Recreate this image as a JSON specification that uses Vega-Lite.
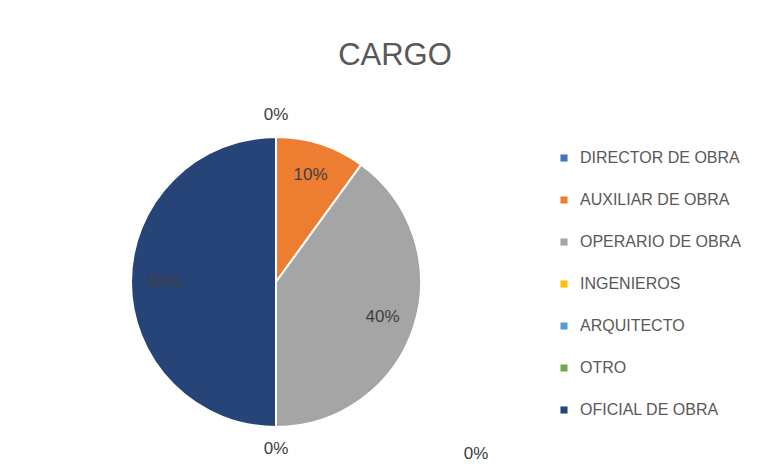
{
  "$schema": "https://vega.github.io/schema/vega-lite/v6.json",
  "width": 552,
  "height": 380,
  "autosize": "none",
  "padding": {"left": 0, "top": 92, "right": 220, "bottom": 4},
  "background": "white",
  "title": {
    "text": "CARGO",
    "fontSize": 31,
    "font": "Liberation Sans",
    "fontWeight": "normal",
    "color": "#595959",
    "dx": 119,
    "offset": 20
  },
  "data": {
    "values": [
      {"cargo": "DIRECTOR DE OBRA", "valor": 0, "orden": 1},
      {"cargo": "AUXILIAR DE OBRA", "valor": 0.1, "orden": 2},
      {"cargo": "OPERARIO DE OBRA", "valor": 0.4, "orden": 3},
      {"cargo": "INGENIEROS", "valor": 0, "orden": 4},
      {"cargo": " ARQUITECTO", "valor": 0, "orden": 5},
      {"cargo": "OTRO", "valor": 0, "orden": 6},
      {"cargo": "OFICIAL DE OBRA", "valor": 0.5, "orden": 7}
    ]
  },
  "encoding": {
    "theta": {"field": "valor", "type": "quantitative", "stack": true},
    "order": {"field": "orden", "type": "quantitative"}
  },
  "layer": [
    {
      "mark": {"type": "arc", "outerRadius": 145, "stroke": "white", "strokeWidth": 2},
      "encoding": {
        "color": {
          "field": "cargo",
          "type": "nominal",
          "scale": {
            "domain": ["DIRECTOR DE OBRA", "AUXILIAR DE OBRA", "OPERARIO DE OBRA", "INGENIEROS", " ARQUITECTO", "OTRO", "OFICIAL DE OBRA"],
            "range": ["#4472C4", "#ED7D31", "#A5A5A5", "#FFC000", "#5B9BD5", "#70AD47", "#264478"]
          },
          "legend": {
            "title": null,
            "orient": "none",
            "legendX": 556,
            "legendY": 58,
            "symbolType": "square",
            "symbolSize": 50,
            "symbolStrokeWidth": 0,
            "labelFontSize": 16,
            "labelFont": "Liberation Sans",
            "labelColor": "#595959",
            "labelOffset": 8,
            "rowPadding": 26,
            "labelLimit": 300
          }
        }
      }
    },
    {
      "mark": {"type": "text", "radius": 112, "fontSize": 17, "font": "Liberation Sans", "color": "#404040"},
      "encoding": {
        "text": {"field": "valor", "type": "quantitative", "format": ".0%"},
        "opacity": {"condition": {"test": "datum.valor > 0", "value": 1}, "value": 0}
      }
    },
    {
      "mark": {"type": "text", "radius": 167, "fontSize": 17, "font": "Liberation Sans", "color": "#404040"},
      "encoding": {
        "text": {"field": "valor", "type": "quantitative", "format": ".0%"},
        "opacity": {"condition": {"test": "datum.cargo == 'DIRECTOR DE OBRA' || datum.cargo == 'INGENIEROS'", "value": 1}, "value": 0}
      }
    },
    {
      "mark": {"type": "text", "radius": 167, "dx": 200, "dy": 5, "fontSize": 17, "font": "Liberation Sans", "color": "#404040"},
      "encoding": {
        "text": {"field": "valor", "type": "quantitative", "format": ".0%"},
        "opacity": {"condition": {"test": "datum.cargo == 'OTRO'", "value": 1}, "value": 0}
      }
    }
  ],
  "config": {"view": {"stroke": null}}
}
